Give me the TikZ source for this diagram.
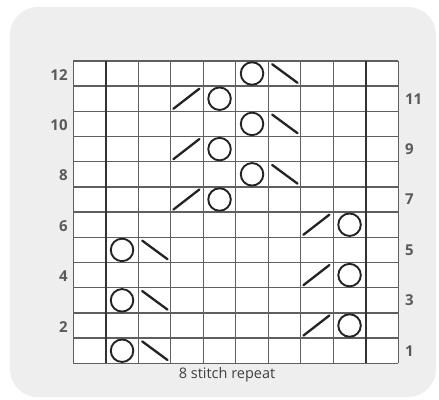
\documentclass[tikz,border=0pt]{standalone}
\usepackage{fontspec}
\setmainfont{Open Sans}
\usetikzlibrary{positioning}
\definecolor{panelGray} {RGB}{238, 238, 238}
\definecolor{gridGray}  {RGB}{ 95,  95,  95}
\definecolor{repGray}   {RGB}{ 50,  50,  50}
\definecolor{symbBlack} {RGB}{ 35,  35,  35}
\definecolor{numGray}   {RGB}{ 90,  90,  90}
\tikzset{
  gridln/.style = {draw=gridGray, line width=1.3pt},
  repln/.style  = {draw=repGray, line width=1.9pt},
  yo/.style     = {circle, draw=symbBlack, line width=1.9pt, fill=none,
                   minimum size=22.5pt, inner sep=0pt},
  ktog/.style   = {draw=symbBlack, line width=2.3pt, line cap=round},
  rownum/.style = {font=\fontsize{15}{17}\selectfont\bfseries, text=numGray, inner sep=0pt},
  caption/.style = {font=\fontsize{14.5}{17}\selectfont, text=black!75, inner sep=0pt},
}

\begin{document}
\begin{tikzpicture}[x=32.5pt, y=25.2pt]
\useasboundingbox (-2.255,-1.417) rectangle (11.252,14.417);

% ---- Panel ------------------------------------------------------------------
\fill[panelGray, rounded corners=28pt] (-1.95,-1.34) rectangle (11.16,14.14);
\fill[white] (0,0) rectangle (10,12);

% ---- Grid -------------------------------------------------------------------
\draw[gridln, xstep=32.5pt, ystep=25.2pt] (0,0) grid (10,12);
\draw[repln] (1,0) -- (1,12);
\draw[repln] (9,0) -- (9,12);

% ---- Row numbers ------------------------------------------------------------
\node[rownum, anchor=east] (r12) at (-0.17,11.45) {12};
\node[rownum, anchor=east] (r10) at (-0.17,9.45)  {10};
\node[rownum, anchor=east] (r8)  at (-0.17,7.45)  {8};
\node[rownum, anchor=east] (r6)  at (-0.17,5.45)  {6};
\node[rownum, anchor=east] (r4)  at (-0.17,3.45)  {4};
\node[rownum, anchor=east] (r2)  at (-0.17,1.45)  {2};
\node[rownum, anchor=west] (r11) at (10.2,10.5) {11};
\node[rownum, anchor=west] (r9)  at (10.2,8.5)  {9};
\node[rownum, anchor=west] (r7)  at (10.2,6.5)  {7};
\node[rownum, anchor=west] (r5)  at (10.2,4.5)  {5};
\node[rownum, anchor=west] (r3)  at (10.2,2.5)  {3};
\node[rownum, anchor=west] (r1)  at (10.2,0.5)  {1};

% ---- Rows 1-5: yarn over + right-slanting dec -------------------------------
\node[yo] (yo1) at (1.5,0.5) {};
\draw[ktog] (2.12,0.87) -- (2.9,0.13);
\node[yo] (yo3) at (1.5,2.5) {};
\draw[ktog] (2.12,2.87) -- (2.9,2.13);
\node[yo] (yo5) at (1.5,4.5) {};
\draw[ktog] (2.12,4.87) -- (2.9,4.13);

% ---- Rows 2-6: left-slanting dec + yarn over --------------------------------
\draw[ktog] (7.08,1.1) -- (7.88,1.9);
\node[yo] (yo2) at (8.5,1.5) {};
\draw[ktog] (7.08,3.1) -- (7.88,3.9);
\node[yo] (yo4) at (8.5,3.5) {};
\draw[ktog] (7.08,5.1) -- (7.88,5.9);
\node[yo] (yo6) at (8.5,5.5) {};

% ---- Rows 7-11: left-slanting dec + yarn over -------------------------------
\draw[ktog] (3.08,6.1) -- (3.88,6.9);
\node[yo] (yo7) at (4.5,6.5) {};
\draw[ktog] (3.08,8.1) -- (3.88,8.9);
\node[yo] (yo9) at (4.5,8.5) {};
\draw[ktog] (3.08,10.1) -- (3.88,10.9);
\node[yo] (yo11) at (4.5,10.5) {};

% ---- Rows 8-12: yarn over + right-slanting dec ------------------------------
\node[yo] (yo8) at (5.5,7.5) {};
\draw[ktog] (6.12,7.87) -- (6.9,7.13);
\node[yo] (yo10) at (5.5,9.5) {};
\draw[ktog] (6.12,9.87) -- (6.9,9.13);
\node[yo] (yo12) at (5.5,11.5) {};
\draw[ktog] (6.12,11.87) -- (6.9,11.13);

% ---- Caption ----------------------------------------------------------------
\node[caption] (rep) at (4.73,-0.45) {8 stitch repeat};

\end{tikzpicture}
\end{document}
